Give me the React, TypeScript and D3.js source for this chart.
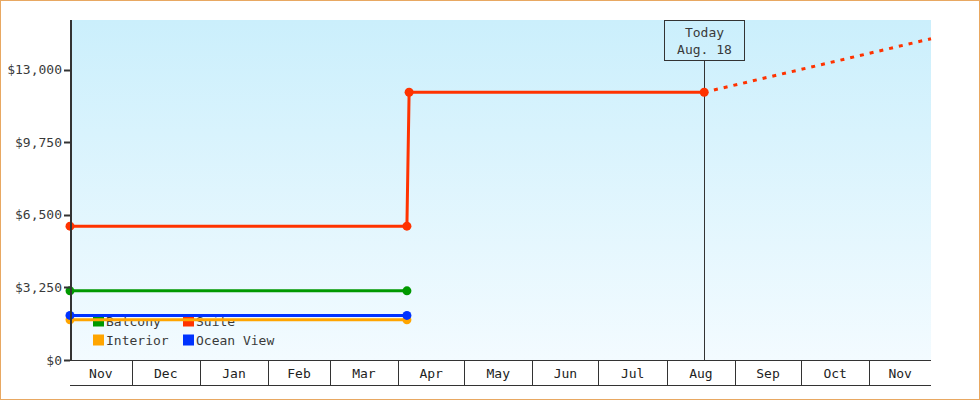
import React from 'react';
import * as d3 from 'd3';

// Cabin price history
const categories = ['Balcony', 'Suite', 'Interior', 'Ocean View'];
const seriesColors = ['#009900', '#ff3300', '#ffa500', '#0033ff'];

const balconyDates = ['2012-11-03', '2013-04-05'];
const balconyValues = [3100, 3100];
const interiorDates = ['2012-11-03', '2013-04-05'];
const interiorValues = [1800, 1800];
const oceanViewDates = ['2012-11-03', '2013-04-05'];
const oceanViewValues = [2000, 2000];
const suiteDates = ['2012-11-03', '2013-04-05', '2013-04-06', '2013-08-18'];
const suiteValues = [6000, 6000, 12000, 12000];
const suiteForecastDates = ['2013-08-18', '2013-11-29'];
const suiteForecastValues = [12000, 14400];

const todayDate = '2013-08-18';
const todayLabel = ['Today', 'Aug. 18'];
const domainDates = ['2012-11-03', '2013-11-29'];
const yTicks = [0, 3250, 6500, 9750, 13000];
const yMax = 15240;

const parse = d3.timeParse('%Y-%m-%d');
type Pt = { date: Date; value: number };
const zip = (ds: string[], vs: number[]): Pt[] => ds.map((d, i) => ({ date: parse(d)!, value: vs[i] }));

const W = 980;
const H = 400;
const m = { left: 70, right: 931, top: 20, bottom: 360 };
const axisBottom = 385;
const font = '"DejaVu Sans Mono", monospace';
const ink = '#333';
const textInk = '#3a3a3a';

export default function App() {
  const x = d3.scaleTime()
    .domain([parse(domainDates[0])!, parse(domainDates[1])!])
    .range([m.left, m.right]);
  const y = d3.scaleLinear().domain([0, yMax]).range([m.bottom, m.top]);

  const series = [
    { name: 'Balcony', color: seriesColors[0], pts: zip(balconyDates, balconyValues) },
    { name: 'Interior', color: seriesColors[2], pts: zip(interiorDates, interiorValues) },
    { name: 'Ocean View', color: seriesColors[3], pts: zip(oceanViewDates, oceanViewValues) },
    { name: 'Suite', color: seriesColors[1], pts: zip(suiteDates, suiteValues) },
  ];
  const forecast = zip(suiteForecastDates, suiteForecastValues);

  const line = d3.line<Pt>().x(d => x(d.date)).y(d => y(d.value));

  // month cells along the bottom axis
  const [d0, d1] = x.domain();
  const monthStarts = d3.timeMonth.range(d3.timeMonth.ceil(d0), d1);
  const bounds = [d0, ...monthStarts, d1];
  const cells = bounds.slice(0, -1).map((b, i) => ({ start: b, end: bounds[i + 1] }));
  const fmtMonth = d3.timeFormat('%b');
  const fmtY = d3.format('$,.0f');

  const tx = Math.round(x(parse(todayDate)!)) + 0.5;

  return (
    <svg width={W} height={H} style={{ position: 'absolute', left: 0, top: 0, display: 'block' }}
      fontFamily={font} fontSize={13}>
      <defs>
        <linearGradient id="plotBg" x1="0" y1="0" x2="0" y2="1">
          <stop offset="0%" stopColor="#cbeffc" />
          <stop offset="100%" stopColor="#f3fbff" />
        </linearGradient>
      </defs>
      <rect x={0} y={0} width={W} height={H} fill="#fff" />
      <rect x={0.5} y={0.5} width={W - 1} height={H - 1} fill="none" stroke="#e8a862" />

      <rect x={m.left} y={m.top} width={m.right - m.left} height={m.bottom - m.top} fill="url(#plotBg)" />

      {/* legend sits under the lines */}
      {categories.map((c, i) => {
        const col = i % 2;
        const row = Math.floor(i / 2);
        const lx = 93 + col * 90;
        const ly = 321 + row * 19;
        return (
          <g key={c}>
            <rect x={lx} y={ly - 5.5} width={11} height={11} fill={seriesColors[i]} />
            <text x={lx + 13} y={ly + 4.5} fill={textInk}>{c}</text>
          </g>
        );
      })}

      {/* today marker */}
      <line x1={tx} x2={tx} y1={m.top + 40} y2={m.bottom} stroke={ink} />
      <rect x={tx - 40} y={m.top + 0.5} width={80} height={40} fill="none" stroke={ink} />
      {todayLabel.map((t, i) => (
        <text key={t} x={tx} y={m.top + 17 + i * 17} textAnchor="middle" fill={textInk}>{t}</text>
      ))}

      {/* series */}
      {series.map(s => (
        <g key={s.name}>
          <path d={line(s.pts) || ''} fill="none" stroke={s.color} strokeWidth={3} />
          {s.pts.map((p, i) => (
            <circle key={i} cx={x(p.date)} cy={y(p.value)} r={4.5} fill={s.color} />
          ))}
        </g>
      ))}
      <path d={line(forecast) || ''} fill="none" stroke={seriesColors[1]} strokeWidth={3} strokeDasharray="4,6" />

      {/* y axis */}
      <line x1={m.left + 1} x2={m.left + 1} y1={m.top} y2={m.bottom} stroke={ink} strokeWidth={2} />
      {yTicks.map(t => (
        <g key={t}>
          <line x1={m.left - 6} x2={m.left} y1={Math.round(y(t)) + 0.5} y2={Math.round(y(t)) + 0.5} stroke={ink} strokeWidth={2} />
          <text x={m.left - 8} y={y(t) + 4.5} textAnchor="end" fill={textInk}>{fmtY(t)}</text>
        </g>
      ))}

      {/* month axis */}
      <line x1={m.left} x2={m.right} y1={m.bottom + 0.5} y2={m.bottom + 0.5} stroke={ink} />
      <line x1={m.left} x2={m.right} y1={axisBottom + 0.5} y2={axisBottom + 0.5} stroke={ink} />
      {monthStarts.map(d => {
        const px = Math.round(x(d)) + 0.5;
        return <line key={+d} x1={px} x2={px} y1={m.bottom} y2={axisBottom} stroke={ink} />;
      })}
      {cells.map(c => (
        <text key={+c.start} x={(x(c.start) + x(c.end)) / 2} y={378} textAnchor="middle" fill="#222">
          {fmtMonth(c.start)}
        </text>
      ))}
    </svg>
  );
}
